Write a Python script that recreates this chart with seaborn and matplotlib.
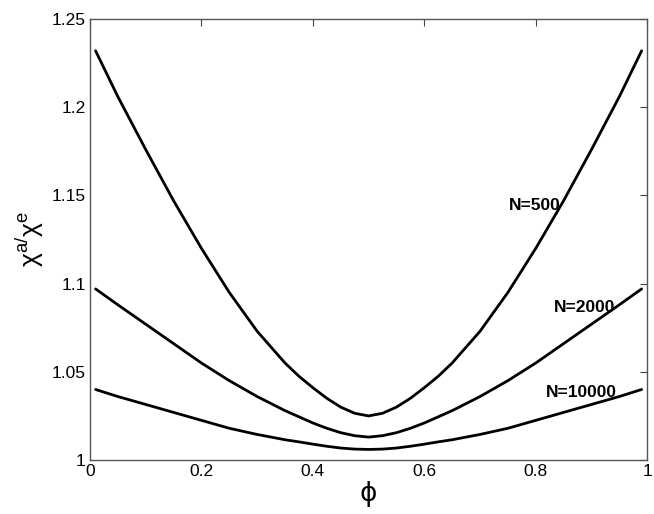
import numpy as np
import pandas as pd
import matplotlib
matplotlib.use("Agg")
import matplotlib.pyplot as plt
import seaborn as sns

# ------------------------------
# Data
# ------------------------------
phi = [0.01, 0.05, 0.1, 0.15, 0.2, 0.25, 0.3, 0.35, 0.375, 0.4, 0.425, 0.45, 0.475,
       0.5,
       0.525, 0.55, 0.575, 0.6, 0.625, 0.65, 0.7, 0.75, 0.8, 0.85, 0.9, 0.95, 0.99]

ratio_500 = [1.232, 1.206, 1.176, 1.147, 1.120, 1.095, 1.073, 1.055, 1.0475, 1.041, 1.035, 1.030, 1.0265,
             1.025,
             1.0265, 1.030, 1.035, 1.041, 1.0475, 1.055, 1.073, 1.095, 1.120, 1.147, 1.176, 1.206, 1.232]
ratio_2000 = [1.097, 1.088, 1.077, 1.066, 1.055, 1.045, 1.036, 1.028, 1.0245, 1.021, 1.018, 1.0155, 1.0138,
              1.013,
              1.0138, 1.0155, 1.018, 1.021, 1.0245, 1.028, 1.036, 1.045, 1.055, 1.066, 1.077, 1.088, 1.097]
ratio_10000 = [1.040, 1.036, 1.0315, 1.027, 1.0225, 1.018, 1.0145, 1.0115, 1.0103, 1.009, 1.0078, 1.0068, 1.0062,
               1.006,
               1.0062, 1.0068, 1.0078, 1.009, 1.0103, 1.0115, 1.0145, 1.018, 1.0225, 1.027, 1.0315, 1.036, 1.040]

labels = ["N=500", "N=2000", "N=10000"]
label_pos = [(0.751, 1.1443), (0.833, 1.0865), (0.8185, 1.038)]

df = pd.DataFrame({
    "phi": phi * 3,
    "ratio": ratio_500 + ratio_2000 + ratio_10000,
    "N": [labels[0]] * len(phi) + [labels[1]] * len(phi) + [labels[2]] * len(phi),
})

# ------------------------------
# Plot
# ------------------------------
sns.set_style("white")
plt.rcParams["font.family"] = ["Liberation Sans", "DejaVu Sans"]
plt.rcParams["mathtext.fontset"] = "dejavusans"
plt.rcParams["text.color"] = "black"
plt.rcParams["axes.labelcolor"] = "black"

fig = plt.figure(figsize=(6.54, 5.14), dpi=100)
ax = fig.add_axes([0.1376, 0.105, 0.852, 0.858])

sns.lineplot(data=df, x="phi", y="ratio", hue="N", palette=["black"] * 3,
             linewidth=2.0, legend=False, ax=ax, sort=False)

for text, (tx, ty) in zip(labels, label_pos):
    ax.text(tx, ty, text, fontsize=12.5, fontweight="bold", color="black",
            ha="left", va="center")

ax.set_xlim(0, 1)
ax.set_ylim(1, 1.25)
ax.set_xticks([0, 0.2, 0.4, 0.6, 0.8, 1])
ax.set_xticklabels(["0", "0.2", "0.4", "0.6", "0.8", "1"])
ax.set_yticks([1, 1.05, 1.1, 1.15, 1.2, 1.25])
ax.set_yticklabels(["1", "1.05", "1.1", "1.15", "1.2", "1.25"])
ax.tick_params(direction="in", top=True, right=True, length=5, width=0.8,
               labelsize=12.5, colors="#444444", labelcolor="black", pad=3)
for sp in ax.spines.values():
    sp.set_visible(True)
    sp.set_color("#555555")
    sp.set_linewidth(1.0)

ax.set_xlabel("\u03d5", fontsize=19, labelpad=1, family=["DejaVu Sans"])
ax.set_ylabel(r"$\mathregular{\chi^{a/}\chi^{e}}$", fontsize=19, labelpad=4)

fig.savefig("out.png", dpi=100)
